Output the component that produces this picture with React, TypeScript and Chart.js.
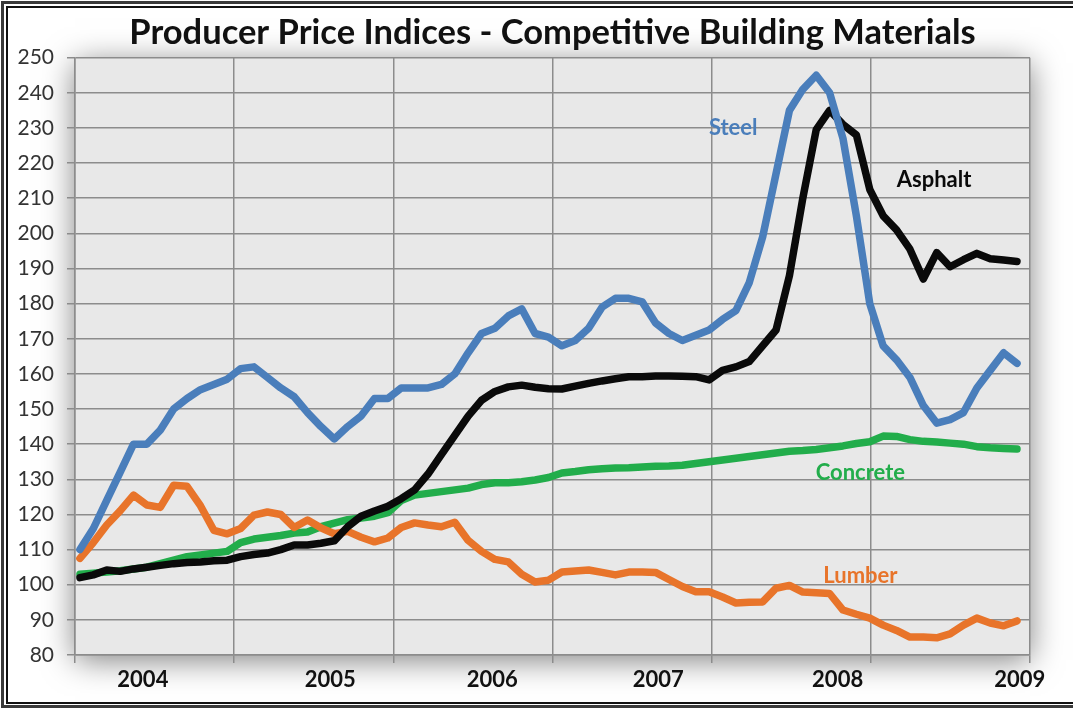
import { useEffect, useRef } from 'react';
import { Chart, registerables } from 'chart.js';

Chart.register(...registerables);

// Monthly index readings (index 0 .. 70)
const steel = [
  110, 116, 124, 132, 140, 140, 144, 150, 153, 155.5, 157, 158.5, 161.5, 162, 159, 156, 153.5, 149, 145, 141.5,
  145, 148, 153, 153, 156, 156, 156, 157, 160, 166, 171.5, 173, 176.5, 178.5, 171.5, 170.5, 168, 169.5, 173, 179,
  181.5, 181.5, 180.5, 174.5, 171.5, 169.5, 171, 172.5, 175.5, 178, 186, 199, 217, 235, 241, 245, 240, 227, 205, 180,
  168, 164, 159, 151, 146, 147, 149, 156, 161, 166, 163,
];
const asphalt = [
  102, 102.8, 104.2, 103.8, 104.5, 105, 105.5, 106, 106.3, 106.5, 106.8, 107, 108, 108.6, 109, 110, 111.3, 111.3, 111.8, 112.5,
  116.5, 119.5, 121, 122.3, 124.5, 127, 131.5, 137, 142.5, 148, 152.5, 155, 156.3, 156.8, 156.2, 155.8, 155.7, 156.5, 157.3, 158,
  158.6, 159.2, 159.2, 159.4, 159.4, 159.3, 159.2, 158.3, 161, 162, 163.5, 168, 172.5, 188, 210, 229.5, 235, 231, 228, 212.5,
  205, 201, 195.5, 187, 194.5, 190.5, 192.5, 194.3, 192.8, 192.4, 192,
];
const concrete = [
  103, 103.3, 103.6, 104, 104.5, 105, 106, 107, 108, 108.5, 109, 109.5, 112, 113, 113.5, 114, 114.7, 115, 116.5, 117.5,
  118.5, 119, 119.5, 120.5, 124, 125.5, 126, 126.5, 127, 127.5, 128.5, 129, 129, 129.3, 129.8, 130.5, 131.8, 132.2, 132.7, 133,
  133.2, 133.3, 133.5, 133.7, 133.8, 134, 134.5, 135, 135.5, 136, 136.5, 137, 137.5, 138, 138.2, 138.5, 139, 139.5, 140.2, 140.7,
  142.3, 142.2, 141.3, 140.8, 140.6, 140.3, 140, 139.3, 139, 138.8, 138.6,
];
const lumber = [
  107.5, 112, 117, 121, 125.5, 122.7, 122, 128.3, 128, 122.5, 115.5, 114.5, 116, 119.8, 120.7, 120, 116.3, 118.4, 116.2, 114.5,
  115.2, 113.5, 112.2, 113.3, 116.3, 117.6, 117, 116.5, 117.8, 112.6, 109.5, 107.2, 106.5, 103, 100.8, 101.3, 103.6, 103.9, 104.2, 103.5,
  102.8, 103.6, 103.6, 103.5, 101.5, 99.5, 98, 98, 96.5, 94.8, 95, 95.1, 99, 99.8, 97.9, 97.7, 97.5, 92.8, 91.6, 90.5,
  88.5, 87, 85.1, 85.1, 84.9, 86, 88.5, 90.5, 89.1, 88.3, 89.7,
];

const yearLabels = ['2004', '2005', '2006', '2007', '2008', '2009'];
const yearTickValues = [4.7, 18.7, 30.8, 43.2, 56.6, 70.2];
const X_MIN = -0.37;
const X_MAX = 70.97;
const GRID_DIVISIONS = 6;

const seriesNames = ['Steel', 'Asphalt', 'Lumber', 'Concrete'];
const seriesColors = ['#4a7ebb', '#0a0a0a', '#e8742a', '#22ad4b'];
const nameLabelX = [48.8, 63.8, 58.3, 58.3];
const nameLabelY = [230, 215.3, 102.5, 131.8];

const FONT = 'Lato, "Open Sans", "DejaVu Sans", sans-serif';

const framePlugin = {
  id: 'frame',
  beforeDraw(chart: any) {
    const { ctx, chartArea: a, width, height } = chart;
    ctx.save();
    ctx.fillStyle = '#ffffff';
    ctx.fillRect(0, 0, width, height);
    ctx.shadowColor = 'rgba(0,0,0,0.5)';
    ctx.shadowBlur = 30;
    ctx.shadowOffsetY = 5;
    ctx.fillStyle = '#e8e8e8';
    ctx.fillRect(a.left, a.top, a.right - a.left, a.bottom - a.top);
    ctx.restore();
    ctx.save();
    ctx.strokeStyle = '#3a3a3a';
    ctx.lineWidth = 3;
    ctx.beginPath();
    ctx.moveTo(width + 5, 2.5);
    ctx.lineTo(2.5, 2.5);
    ctx.lineTo(2.5, height - 2.5);
    ctx.lineTo(width + 5, height - 2.5);
    ctx.stroke();
    ctx.strokeStyle = '#111';
    ctx.lineWidth = 2;
    ctx.beginPath();
    ctx.moveTo(width + 5, 7);
    ctx.lineTo(7, 7);
    ctx.lineTo(7, height - 6);
    ctx.lineTo(width + 5, height - 6);
    ctx.stroke();
    ctx.restore();
  },
};

const namePlugin = {
  id: 'seriesNames',
  afterDatasetsDraw(chart: any) {
    const { ctx } = chart;
    const xs = chart.scales.x;
    const ys = chart.scales.y;
    ctx.save();
    ctx.font = `bold 22px ${FONT}`;
    ctx.textAlign = 'center';
    ctx.textBaseline = 'middle';
    seriesNames.forEach((n, i) => {
      ctx.fillStyle = seriesColors[i];
      ctx.fillText(n, xs.getPixelForValue(nameLabelX[i]), ys.getPixelForValue(nameLabelY[i]));
    });
    ctx.restore();
  },
};

export default function App() {
  const ref = useRef<HTMLCanvasElement>(null);

  useEffect(() => {
    if (!ref.current) return;
    const series = [steel, asphalt, lumber, concrete];
    const chart = new Chart(ref.current, {
      type: 'line',
      data: {
        datasets: series.map((vals, si) => ({
          label: seriesNames[si],
          data: vals.map((v, i) => ({ x: i, y: v })),
          borderColor: seriesColors[si],
          backgroundColor: seriesColors[si],
          borderWidth: 7.5,
          pointRadius: 0,
          tension: 0,
          borderJoinStyle: 'round',
          borderCapStyle: 'round',
          fill: false,
        })),
      },
      options: {
        responsive: false,
        animation: false,
        devicePixelRatio: 1,
        layout: { padding: { left: 0, right: 43, top: 0, bottom: 0 } },
        plugins: {
          legend: { display: false },
          tooltip: { enabled: false },
          title: {
            display: true,
            fullSize: false,
            text: 'Producer Price Indices - Competitive Building Materials',
            color: '#111',
            font: { family: FONT, size: 34.5, weight: 'bold', lineHeight: 1.15 },
            padding: { top: 13, bottom: 5 },
          },
        },
        scales: {
          x: {
            type: 'linear',
            min: X_MIN,
            max: X_MAX,
            afterBuildTicks: (s: any) => {
              const t: any[] = [];
              for (let k = 0; k <= GRID_DIVISIONS; k++) {
                t.push({ value: X_MIN + (k * (X_MAX - X_MIN)) / GRID_DIVISIONS });
              }
              yearTickValues.forEach((v) => t.push({ value: v }));
              t.sort((p, q) => p.value - q.value);
              s.ticks = t;
            },
            afterFit: (s: any) => {
              s.height = 54;
            },
            ticks: {
              autoSkip: false,
              maxRotation: 0,
              padding: 4,
              color: '#111',
              font: { family: FONT, size: 22, weight: 'bold' },
              callback: (v: any) => {
                const idx = yearTickValues.indexOf(v);
                return idx >= 0 ? yearLabels[idx] : '';
              },
            },
            grid: {
              color: (c: any) =>
                c.tick && yearTickValues.includes(c.tick.value) ? 'rgba(0,0,0,0)' : '#8c8c8c',
              lineWidth: 1.5,
              tickLength: 8,
            },
            border: { color: '#8c8c8c', width: 1.5 },
          },
          y: {
            min: 80,
            max: 250,
            afterFit: (s: any) => {
              s.width = 75;
            },
            ticks: {
              stepSize: 10,
              autoSkip: false,
              padding: 13,
              color: '#333',
              font: { family: FONT, size: 21 },
            },
            grid: { color: '#8c8c8c', lineWidth: 1.5, tickLength: 8 },
            border: { color: '#8c8c8c', width: 1.5 },
          },
        },
      },
      plugins: [framePlugin, namePlugin],
    } as any);
    return () => chart.destroy();
  }, []);

  return (
    <div style={{ position: 'fixed', left: 0, top: 0, width: 1073, height: 709 }}>
      <canvas ref={ref} width={1073} height={709} />
    </div>
  );
}
